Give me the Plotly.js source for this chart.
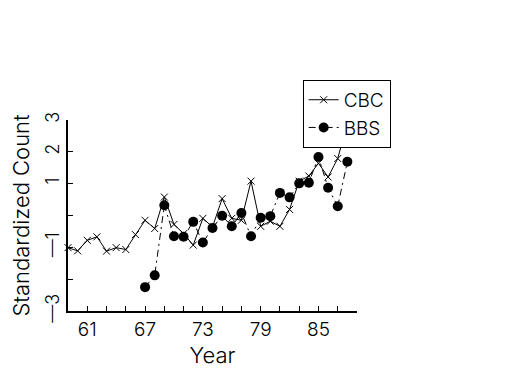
<!DOCTYPE html>
<html>
<head>
<meta charset="utf-8">
<script src="https://cdn.plot.ly/plotly-3.0.1.min.js"></script>
<style>html,body{margin:0;padding:0;background:#fff;}#chart{width:525px;height:375px;}</style>
</head>
<body>
<div id="chart"></div>
<script>
const cbcYears = [59,60,61,62,63,64,65,66,67,68,69,70,71,72,73,74,75,76,77,78,79,80,81,82,83,84,85,86,87,88];
const cbcValues = [-1.01,-1.11,-0.78,-0.67,-1.12,-1.01,-1.07,-0.60,-0.15,-0.41,0.58,-0.28,-0.57,-0.93,-0.09,-0.36,0.53,-0.09,-0.15,1.08,-0.34,-0.18,-0.34,0.19,1.08,1.24,1.64,1.21,1.79,2.9];
const bbsYears = [67,68,69,70,71,72,73,74,75,76,77,78,79,80,81,82,83,84,85,86,87,88];
const bbsValues = [-2.25,-1.88,0.32,-0.65,-0.67,-0.20,-0.85,-0.39,-0.01,-0.34,0.08,-0.65,-0.07,-0.02,0.71,0.57,1.01,1.03,1.84,0.87,0.29,1.69];
const xTickVals = [61,63,65,67,69,71,73,75,77,79,81,83,85,87,89];
const xTickText = ['61','','','67','','','73','','','79','','','85','',''];
const yTickVals = [-3,-2,-1,0,1,2,3];
const yTickText = ['\u20143','','\u20141','','1','2','3'];

const FONT = "'DejaVu Sans ExtraLight', 'Inter', 'DejaVu Sans', sans-serif";

const traces = [
  {x: cbcYears, y: cbcValues, name: 'CBC', type: 'scatter', mode: 'lines+markers',
   line: {color: '#000', width: 1},
   marker: {symbol: 'x-thin-open', size: 7, color: '#000', line: {width: 1, color: '#000'}},
   cliponaxis: false},
  {x: bbsYears, y: bbsValues, name: 'BBS', type: 'scatter', mode: 'lines+markers',
   line: {color: '#000', width: 1, dash: '7px,4px,2px,4px'},
   marker: {symbol: 'circle', size: 10, color: '#000'},
   cliponaxis: false}
];

const layout = {
  width: 525, height: 375,
  margin: {l: 68, r: 168, t: 120, b: 64},
  paper_bgcolor: '#fff', plot_bgcolor: '#fff',
  font: {family: FONT, color: '#000', weight: 300},
  showlegend: true,
  legend: {x: 0.812, y: 1.21, xanchor: 'left', yanchor: 'top',
           bgcolor: '#fff', bordercolor: '#000', borderwidth: 1,
           font: {family: FONT, size: 19, color: '#000'}, tracegroupgap: 0},
  xaxis: {range: [59, 89], showgrid: false, zeroline: false,
          showline: true, linecolor: '#000', linewidth: 2,
          ticks: 'inside', ticklen: 5, tickwidth: 1, tickcolor: '#000',
          tickvals: xTickVals, ticktext: xTickText,
          tickfont: {family: FONT, size: 19, color: '#000'},
          title: {text: 'Year', font: {family: FONT, size: 22, color: '#000'}, standoff: 8}},
  yaxis: {range: [-3, 3], showgrid: false, zeroline: false,
          showline: true, linecolor: '#000', linewidth: 2,
          ticks: 'inside', ticklen: 5, tickwidth: 1, tickcolor: '#000',
          tickvals: yTickVals, ticktext: yTickText, tickangle: -90,
          tickfont: {family: FONT, size: 18, color: '#000'},
          title: {text: 'Standardized Count', font: {family: FONT, size: 22, color: '#000'}, standoff: 6}}
};

Plotly.newPlot('chart', traces, layout, {displayModeBar: false, staticPlot: true});
</script>
</body>
</html>
